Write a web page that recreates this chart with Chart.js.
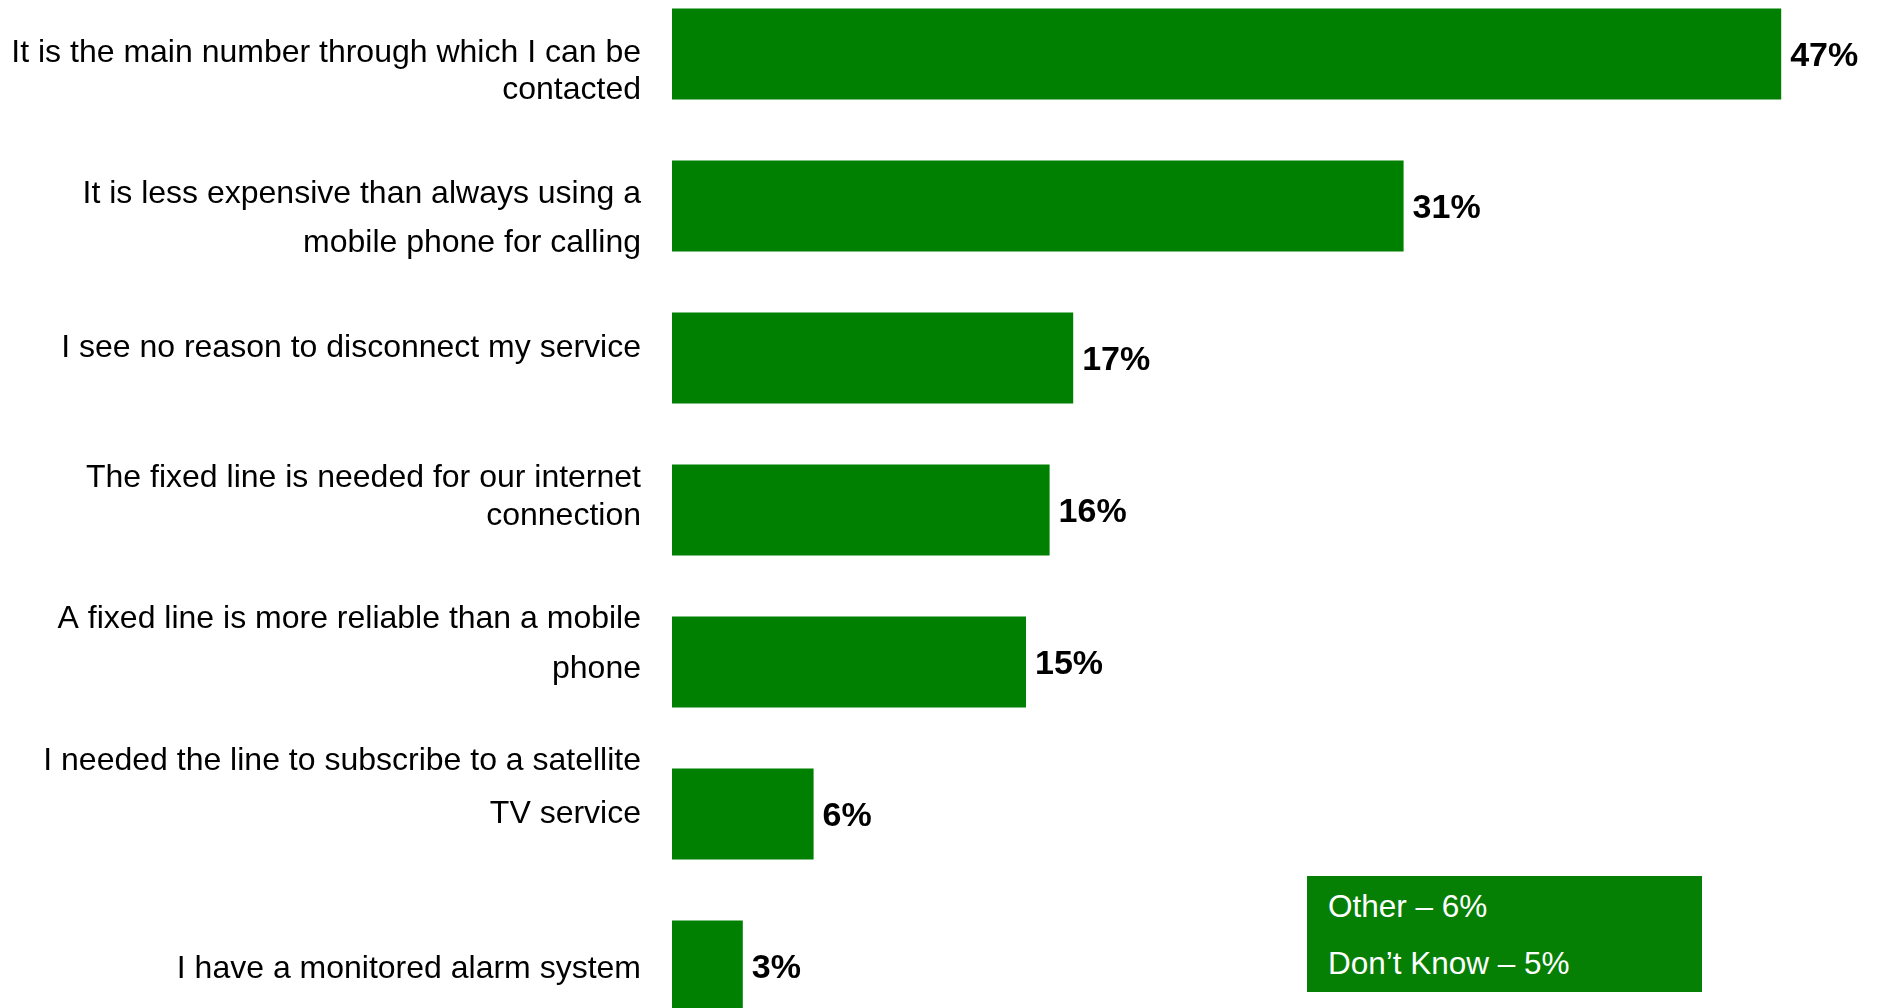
<!DOCTYPE html>
<html>
<head>
<meta charset="utf-8">
<title>Reasons for keeping the fixed line</title>
<script src="https://cdn.jsdelivr.net/npm/chart.js@4.4.1/dist/chart.umd.min.js"></script>
<style>
  html, body {
    margin: 0;
    padding: 0;
    background: #fff;
    overflow: hidden;
    width: 1881px;
    height: 1008px;
  }
  .chart-wrap {
    position: absolute;
    left: 0;
    top: -22px;
    width: 1881px;
    height: 1064px;
  }
  .note-box {
    position: absolute;
    left: 1307px;
    top: 876px;
    width: 395px;
    height: 116px;
    background: #058005;
    color: #fff;
    font-family: "Liberation Sans", Arial, sans-serif;
    font-size: 31.5px;
  }
  .note-box div {
    position: absolute;
    left: 21px;
    line-height: 1;
  }
</style>
</head>
<body>
<div class="chart-wrap">
  <canvas id="reasons-chart"></canvas>
</div>
<div class="note-box" id="note-box"></div>

<script>
const categories = [
  ['It is the main number through which I can be', 'contacted'],
  ['It is less expensive than always using a', 'mobile phone for calling'],
  ['I see no reason to disconnect my service'],
  ['The fixed line is needed for our internet', 'connection'],
  ['A fixed line is more reliable than a mobile', 'phone'],
  ['I needed the line to subscribe to a satellite', 'TV service'],
  ['I have a monitored alarm system'],
];
const values = [47, 31, 17, 16, 15, 6, 3];

const noteLabels = ['Other', 'Don\u2019t Know'];
const noteValues = [6, 5];

// label layout: first-line baseline relative to the bar centre, and line spacing
const labelBaseline = [8, -3, -1, -23, -34, -44, 12];
const labelLeading = [37, 49, 0, 38, 50, 53, 0];

const GREEN = '#008000';
const FONT = '"Liberation Sans", Arial, sans-serif';

const barLabels = {
  id: 'barLabels',
  afterDatasetsDraw(chart) {
    const { ctx, chartArea, scales } = chart;
    const x = scales.x;
    const y = scales.y;
    ctx.save();
    ctx.fillStyle = '#000';

    // category text, right aligned left of the bars
    ctx.font = '32px ' + FONT;
    ctx.textAlign = 'right';
    ctx.textBaseline = 'alphabetic';
    categories.forEach((lines, i) => {
      const cy = y.getPixelForValue(i);
      lines.forEach((line, j) => {
        ctx.fillText(line, chartArea.left - 31, cy + labelBaseline[i] + j * labelLeading[i]);
      });
    });

    // value at the end of each bar
    ctx.font = 'bold 34px ' + FONT;
    ctx.textAlign = 'left';
    values.forEach((v, i) => {
      const cy = y.getPixelForValue(i);
      ctx.fillText(v + '%', x.getPixelForValue(v) + 9, cy + 12);
    });
    ctx.restore();
  },
};

new Chart(document.getElementById('reasons-chart'), {
  type: 'bar',
  data: {
    labels: categories,
    datasets: [
      {
        data: values,
        backgroundColor: GREEN,
        borderWidth: 0,
        barPercentage: 0.6,
        categoryPercentage: 1.0,
      },
    ],
  },
  options: {
    indexAxis: 'y',
    responsive: true,
    maintainAspectRatio: false,
    animation: false,
    layout: {
      padding: { left: 672, right: 29, top: 0, bottom: 0 },
    },
    scales: {
      x: { display: false, min: 0, max: 50 },
      y: { display: false },
    },
    plugins: {
      legend: { display: false },
      tooltip: { enabled: false },
    },
  },
  plugins: [barLabels],
});

// small box with the remaining answers
const box = document.getElementById('note-box');
noteLabels.forEach((label, i) => {
  const row = document.createElement('div');
  row.textContent = label + ' \u2013 ' + noteValues[i] + '%';
  row.style.top = (15 + i * 57) + 'px';
  box.appendChild(row);
});
</script>
</body>
</html>
